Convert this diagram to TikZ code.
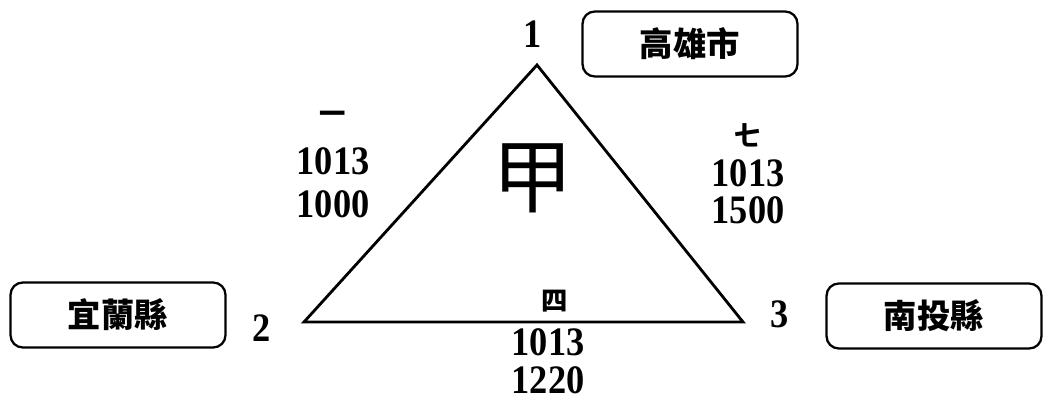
\documentclass[tikz,border=0pt]{standalone}
\usepackage{fontspec}
\setmainfont{Liberation Serif}
\newfontfamily\cjk{Noto Sans CJK TC}
\newfontfamily\numfont[FakeStretch=0.9]{Liberation Serif}
\begin{document}
\begin{tikzpicture}[x=0.02cm,y=-0.02cm,line width=1.6pt,
    city node/.style={draw,line width=1.3pt,rounded corners=7pt,minimum width=4.3cm,minimum height=1.3cm,font=\cjk\bfseries\fontsize{19}{19}\selectfont},
    num node/.style={inner sep=0pt,font=\numfont\bfseries\fontsize{23}{23}\selectfont},
    vert node/.style={inner sep=0pt,font=\numfont\bfseries\fontsize{23}{23}\selectfont},
    han node/.style={inner sep=0pt,font=\cjk\bfseries\fontsize{15}{15}\selectfont}]
    \useasboundingbox (0,0) rectangle (1046,402);

    \coordinate (a) at (537, 65);
    \coordinate (b) at (304, 322);
    \coordinate (c) at (743, 322);

    \node[vert node] at (533, 34) (n1) {1};
    \node[vert node] at (262, 328) (n2) {2};
    \node[vert node] at (780, 314) (n3) {3};

    \node[city node] at (690, 44) (kh) {高雄市};
    \node[city node] at (118, 315) (il) {宜蘭縣};
    \node[city node] at (934, 316) (nt) {南投縣};

    \node[inner sep=0pt,font=\cjk\fontsize{46}{46}\selectfont] at (533, 178) (jia) {甲};

    % side labels
    \node[han node] at (333, 117) (ab) {一};
    \node[num node] at (333, 161) (ab1) {1013};
    \node[num node] at (333, 204) (ab2) {1000};
    \node[han node] at (748, 135) (ac) {七};
    \node[num node] at (748, 173) (ac1) {1013};
    \node[num node] at (748, 210) (ac2) {1500};
    \node[han node] at (555, 301) (bc) {四};
    \node[num node] at (548, 342) (bc1) {1013};
    \node[num node] at (548, 380) (bc2) {1220};

    \draw (a) -- (b) -- (c) -- cycle;
\end{tikzpicture}
\end{document}
